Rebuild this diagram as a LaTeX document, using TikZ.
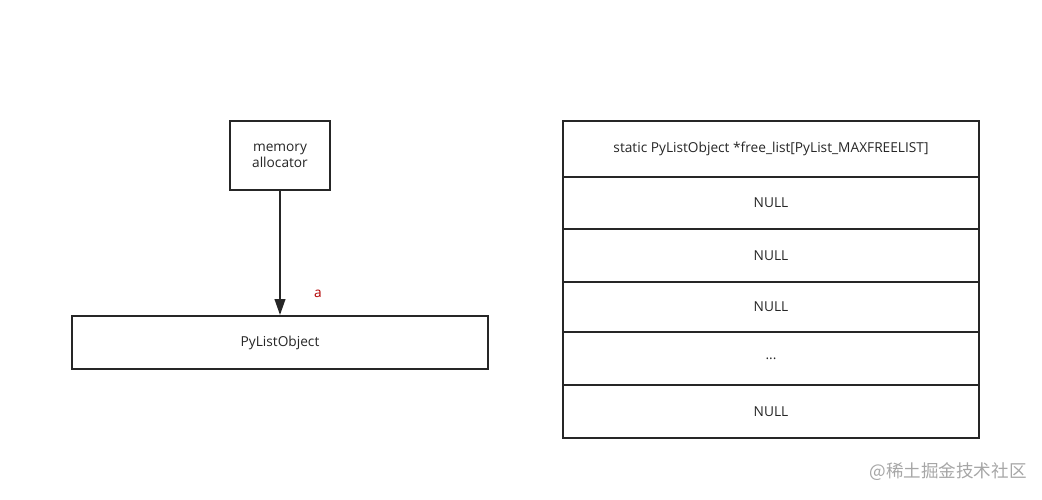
\documentclass[tikz,border=0pt]{standalone}
\usepackage{fontspec}
\setmainfont{Open Sans}
\newfontfamily\cjk{Noto Sans CJK SC}
\usetikzlibrary{arrows.meta}
\tikzset{
  box/.style={draw=black!85, line width=1.1pt, minimum width=8.32cm, inner sep=0pt, align=center},
}
\begin{document}
\begin{tikzpicture}[x=0.02cm, y=-0.02cm, font=\fontsize{7.8}{9.2}\selectfont, text=black!85]
  \useasboundingbox (0,0) rectangle (1042,500);
  % left side
  \node[box, minimum width=2cm, minimum height=1.38cm] (alloc) at (280,155.5) {memory\\allocator};
  \node[box, minimum height=1.06cm] (pylist) at (280,342.5) {PyListObject};
  \draw[line width=1.1pt, black!85, -{Triangle[length=9pt, width=6pt]}] (alloc) -- (pylist);
  \node[text=red!70!black] (lbla) at (318,294) {a};
  % free list
  \node[box, minimum height=1.12cm] (head) at (771,149) {static PyListObject *free\_list[PyList\_MAXFREELIST]};
  \node[box, minimum height=1.04cm] (n1) at (771,203) {NULL};
  \node[box, minimum height=1.06cm] (n2) at (771,255.5) {NULL};
  \node[box, minimum height=1.00cm] (n3) at (771,307) {NULL};
  \node[box, minimum height=1.06cm] (dots) at (771,358.5) {...};
  \node[box, minimum height=1.06cm] (n4) at (771,411.5) {NULL};
  % watermark
  \node[text=black!35, font=\cjk\fontsize{10}{12}\selectfont] (mark) at (948,472) {@稀土掘金技术社区};
\end{tikzpicture}
\end{document}
